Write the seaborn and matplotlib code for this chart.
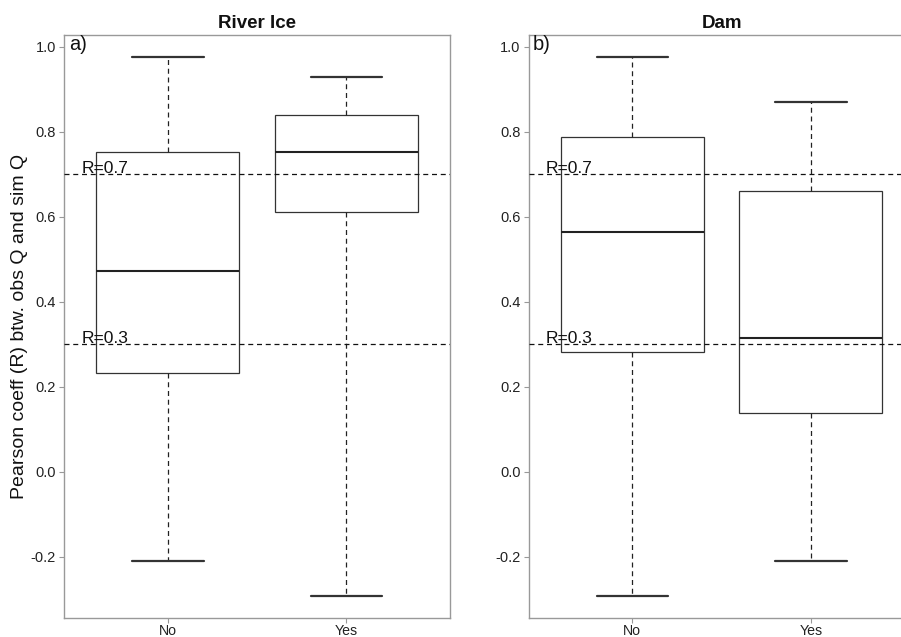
import numpy as np
import pandas as pd
import matplotlib
matplotlib.use("Agg")
import matplotlib.pyplot as plt
import seaborn as sns

# five-number summaries: min, Q1, median, Q3, max
groups = ["No", "Yes"]
river_ice_no = [-0.210, 0.231, 0.473, 0.751, 0.976]
river_ice_yes = [-0.292, 0.611, 0.751, 0.839, 0.928]
dam_no = [-0.292, 0.282, 0.565, 0.787, 0.976]
dam_yes = [-0.210, 0.137, 0.315, 0.660, 0.870]

panel_titles = ["River Ice", "Dam"]
panel_tags = ["a)", "b)"]
ref_lines = [0.7, 0.3]
yticks = [-0.2, 0.0, 0.2, 0.4, 0.6, 0.8, 1.0]


def long_table(no_vals, yes_vals):
    return pd.DataFrame({
        "group": ["No"] * len(no_vals) + ["Yes"] * len(yes_vals),
        "R": no_vals + yes_vals,
    })


tables = [long_table(river_ice_no, river_ice_yes), long_table(dam_no, dam_yes)]

sns.set_theme(style="white")
plt.rcParams["font.family"] = ["Liberation Sans", "DejaVu Sans"]

fig = plt.figure(figsize=(9.01, 6.37), dpi=100)
W, H = 901, 637
# axes in pixels: left, top, right, bottom (right panel runs past the image edge)
boxes_px = [(64.3, 34.7, 450.0, 617.5), (528.7, 34.7, 914.4, 617.5)]

edge = "#333333"
frame = "#999999"

for i, df in enumerate(tables):
    l, t, r, b = boxes_px[i]
    ax = fig.add_axes([l / W, (H - b) / H, (r - l) / W, (b - t) / H])

    sns.boxplot(
        data=df, x="group", y="R", order=groups, ax=ax,
        whis=(0, 100), width=0.8, color="white", linecolor=edge, linewidth=0.9,
        showfliers=False,
        whiskerprops={"linestyle": (0, (4, 3)), "linewidth": 0.9, "color": "#222222"},
        capprops={"linewidth": 1.6, "color": "#333333"},
        medianprops={"linewidth": 1.5, "color": "#222222"},
    )

    for val in ref_lines:
        ax.axhline(val, ls=(0, (4, 3)), color="#111111", lw=0.9, zorder=5)
        ax.text(-0.485, val + 0.003, f"R={val}", fontsize=12.5, color="#111111",
                va="baseline", ha="left", zorder=6)

    ax.set_xlim(-0.58, 1.58)
    ax.set_ylim(-0.343, 1.028)
    ax.set_yticks(yticks)
    ax.set_yticklabels([f"{v:.1f}" for v in yticks])
    ax.set_xlabel("")
    ax.set_ylabel("")
    ax.set_title(panel_titles[i], fontsize=13.5, fontweight="bold", pad=4.5, color="#111111")
    ax.annotate(panel_tags[i], xy=(0, 1), xycoords="axes fraction",
                xytext=(3.2, -0.5), textcoords="offset points",
                fontsize=14.5, va="top", ha="left", color="#111111")

    for side in ["left", "bottom", "top", "right"]:
        ax.spines[side].set_color(frame)
        ax.spines[side].set_linewidth(1.0)
    ax.tick_params(axis="both", which="both", direction="out", length=3.4, width=0.8,
                   color=frame, labelcolor="#222222", left=True, bottom=True)
    ax.tick_params(axis="y", labelsize=10.5, pad=2.5)
    ax.tick_params(axis="x", labelsize=10.2, pad=1.2)
    ax.set_facecolor("white")

    if i == 0:
        ax.set_ylabel("Pearson coeff (R) btw. obs Q and sim Q", fontsize=14,
                      color="#111111", labelpad=2)

fig.savefig("out.png", dpi=100, facecolor="white")
